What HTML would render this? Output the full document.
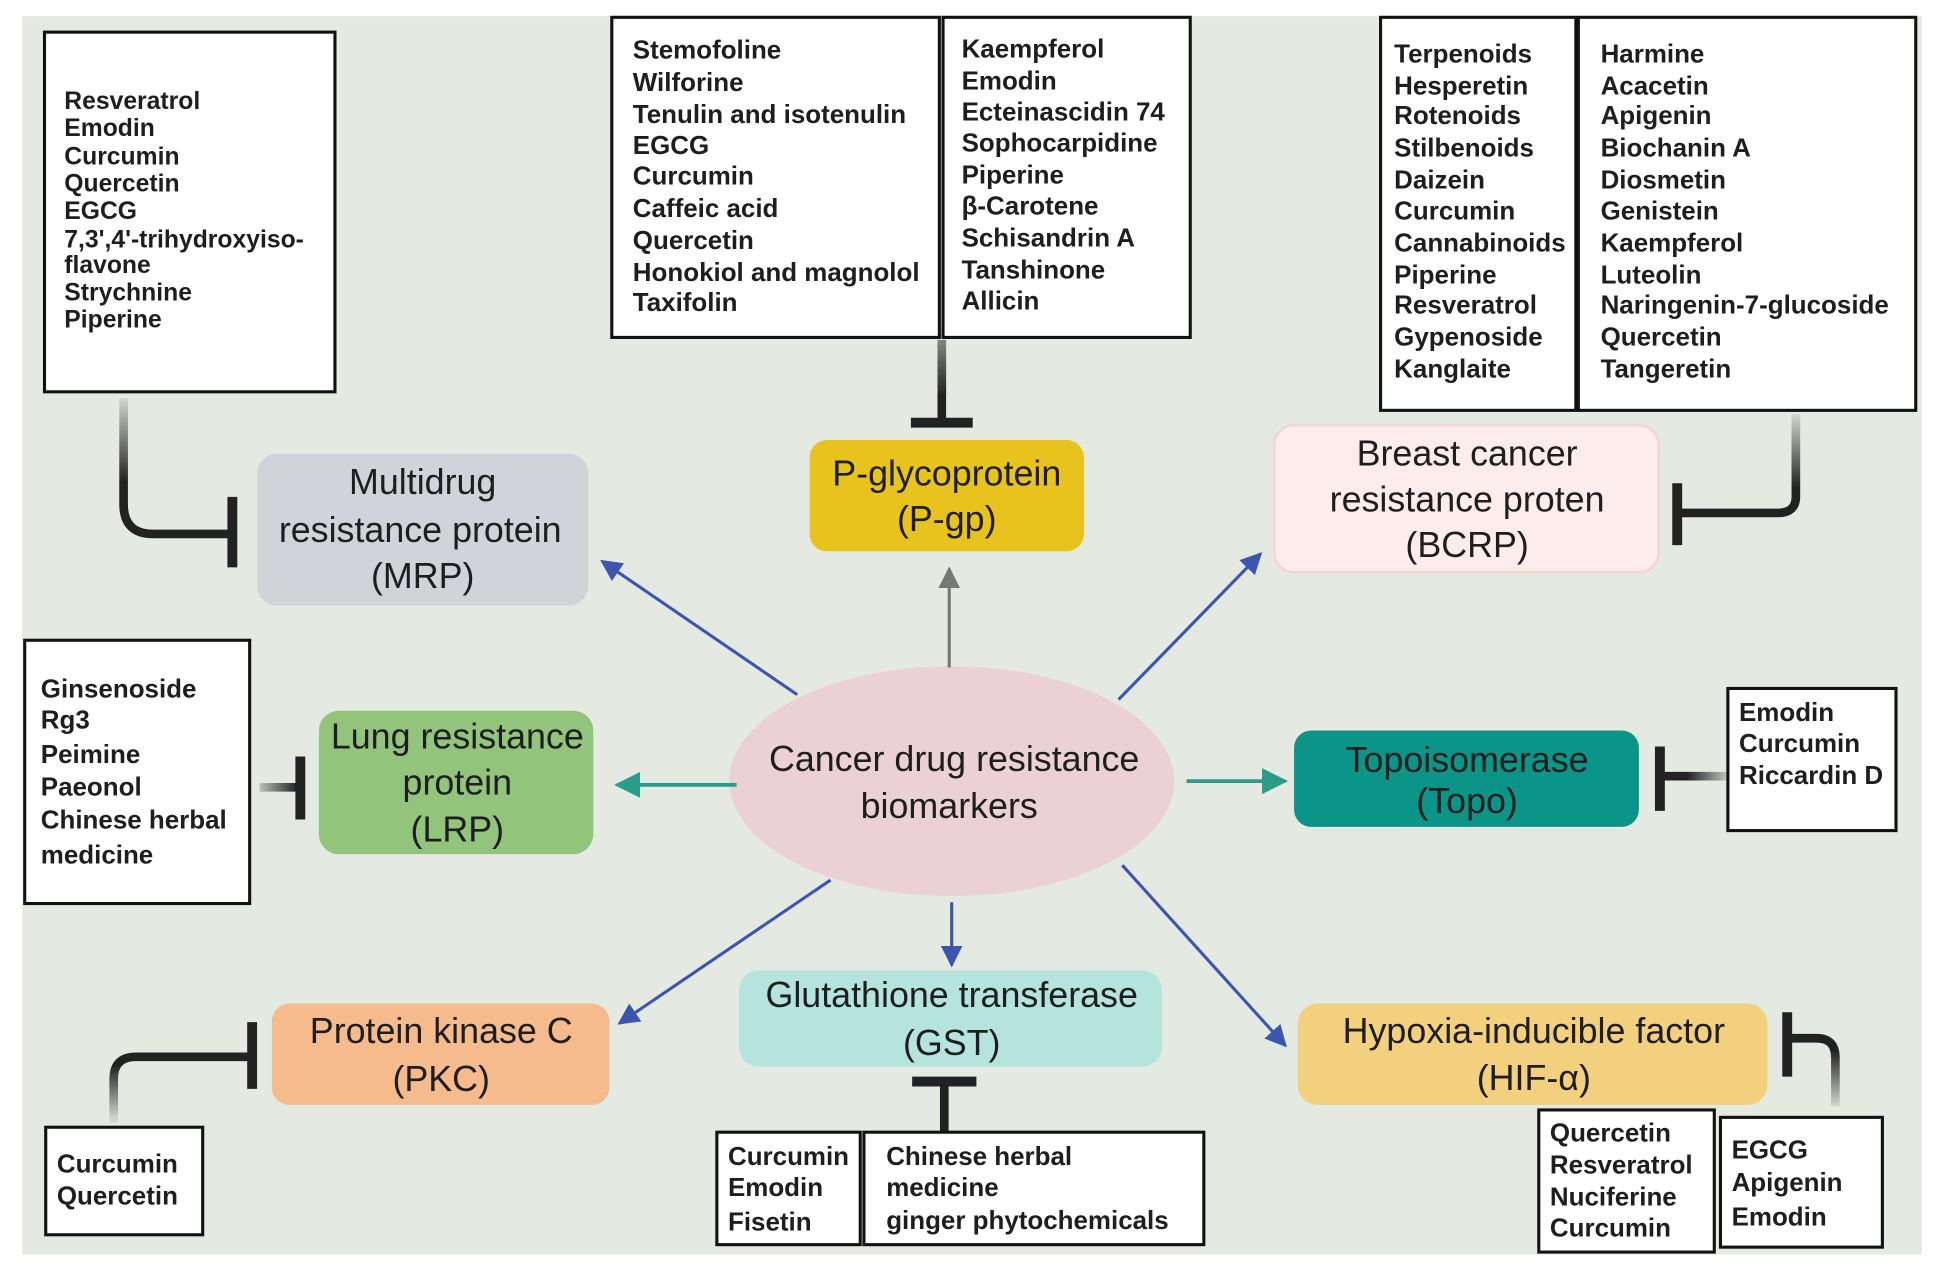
<!DOCTYPE html>
<html><head><meta charset="utf-8"><style>
html,body{margin:0;padding:0;background:#fff;}
svg{display:block;}
text{font-family:"Liberation Sans Narrow","Liberation Sans",sans-serif;fill:#1e1e1e;}
.l{font-size:21px;font-weight:bold;dominant-baseline:central;}
.m{font-size:20px;font-weight:bold;dominant-baseline:central;}
.n{font-size:29px;text-anchor:middle;dominant-baseline:central;}
.bx{fill:#fff;stroke:#111;stroke-width:2.5;}
.inh{fill:none;stroke-width:7;}
</style></head><body>
<svg width="1938" height="1270" viewBox="0 0 1568 1027.5" preserveAspectRatio="none">
<defs>
<marker id="ab" viewBox="0 0 10 10" refX="9" refY="5" markerWidth="7" markerHeight="7" orient="auto"><path d="M0,0L10,5L0,10z" fill="#3b55b0"/></marker>
<marker id="ag" viewBox="0 0 10 10" refX="9" refY="5" markerWidth="7" markerHeight="7" orient="auto"><path d="M0,0L10,5L0,10z" fill="#777"/></marker>
<marker id="at" viewBox="0 0 10 10" refX="9" refY="5" markerWidth="7" markerHeight="7" orient="auto"><path d="M0,0L10,5L0,10z" fill="#2a9d8a"/></marker>
<linearGradient id="g1" gradientUnits="userSpaceOnUse" x1="0" y1="322" x2="0" y2="390"><stop offset="0" stop-color="#222" stop-opacity="0.1"/><stop offset="1" stop-color="#222"/></linearGradient>
<linearGradient id="g2" gradientUnits="userSpaceOnUse" x1="0" y1="335" x2="0" y2="395"><stop offset="0" stop-color="#222" stop-opacity="0.1"/><stop offset="1" stop-color="#222"/></linearGradient>
<linearGradient id="g3" gradientUnits="userSpaceOnUse" x1="0" y1="905" x2="0" y2="862"><stop offset="0" stop-color="#222" stop-opacity="0.1"/><stop offset="1" stop-color="#222"/></linearGradient>
<linearGradient id="g4" gradientUnits="userSpaceOnUse" x1="0" y1="895" x2="0" y2="850"><stop offset="0" stop-color="#222" stop-opacity="0.1"/><stop offset="1" stop-color="#222"/></linearGradient>
<linearGradient id="g5" gradientUnits="userSpaceOnUse" x1="1397" y1="0" x2="1365" y2="0"><stop offset="0" stop-color="#222" stop-opacity="0.2"/><stop offset="1" stop-color="#222"/></linearGradient>
<linearGradient id="g6" gradientUnits="userSpaceOnUse" x1="210" y1="0" x2="240" y2="0"><stop offset="0" stop-color="#222" stop-opacity="0.2"/><stop offset="1" stop-color="#222"/></linearGradient>
<linearGradient id="g7" gradientUnits="userSpaceOnUse" x1="0" y1="275" x2="0" y2="320"><stop offset="0" stop-color="#222" stop-opacity="0.5"/><stop offset="1" stop-color="#222"/></linearGradient>
</defs>
<rect x="18" y="13" width="1537" height="1002" fill="#e4eae1"/>

<rect class="bx" x="36" y="26" width="235" height="291"/>
<g class="m">
<text x="52" y="82">Resveratrol</text><text x="52" y="104">Emodin</text><text x="52" y="127">Curcumin</text><text x="52" y="149">Quercetin</text><text x="52" y="171">EGCG</text><text x="52" y="194">7,3',4'-trihydroxyiso-</text><text x="52" y="215">flavone</text><text x="52" y="237">Strychnine</text><text x="52" y="259">Piperine</text>
</g>
<path class="inh" d="M100,322 V408 Q100,432 124,432 H186" style="stroke:url(#g1)"/>
<line x1="188" y1="402" x2="188" y2="459" stroke="#222" stroke-width="8"/>

<rect class="bx" x="495" y="14" width="265" height="259"/>
<rect class="bx" x="763" y="14" width="200" height="259"/>
<g class="l">
<text x="512" y="41">Stemofoline</text><text x="512" y="67">Wilforine</text><text x="512" y="93">Tenulin and isotenulin</text><text x="512" y="118">EGCG</text><text x="512" y="143">Curcumin</text><text x="512" y="169">Caffeic acid</text><text x="512" y="195">Quercetin</text><text x="512" y="221">Honokiol and magnolol</text><text x="512" y="245">Taxifolin</text>
<text x="778" y="40">Kaempferol</text><text x="778" y="66">Emodin</text><text x="778" y="91">Ecteinascidin 74</text><text x="778" y="116">Sophocarpidine</text><text x="778" y="142">Piperine</text><text x="778" y="167">β-Carotene</text><text x="778" y="193">Schisandrin A</text><text x="778" y="219">Tanshinone</text><text x="778" y="244">Allicin</text>
</g>
<line x1="762" y1="275" x2="762" y2="340" style="stroke:url(#g7)" stroke-width="7"/>
<line x1="737" y1="342" x2="787" y2="342" stroke="#222" stroke-width="8"/>

<rect class="bx" x="1117" y="14" width="158" height="318"/>
<rect class="bx" x="1277" y="14" width="273" height="318"/>
<g class="l">
<text x="1128" y="44">Terpenoids</text><text x="1128" y="70">Hesperetin</text><text x="1128" y="94">Rotenoids</text><text x="1128" y="120">Stilbenoids</text><text x="1128" y="146">Daizein</text><text x="1128" y="171">Curcumin</text><text x="1128" y="197">Cannabinoids</text><text x="1128" y="223">Piperine</text><text x="1128" y="247">Resveratrol</text><text x="1128" y="273">Gypenoside</text><text x="1128" y="299">Kanglaite</text>
<text x="1295" y="44">Harmine</text><text x="1295" y="70">Acacetin</text><text x="1295" y="94">Apigenin</text><text x="1295" y="120">Biochanin A</text><text x="1295" y="146">Diosmetin</text><text x="1295" y="171">Genistein</text><text x="1295" y="197">Kaempferol</text><text x="1295" y="223">Luteolin</text><text x="1295" y="247">Naringenin-7-glucoside</text><text x="1295" y="273">Quercetin</text><text x="1295" y="299">Tangeretin</text>
</g>
<path class="inh" d="M1453,335 V402 Q1453,415 1438,415 H1358" style="stroke:url(#g2)"/>
<line x1="1357" y1="391" x2="1357" y2="441" stroke="#222" stroke-width="8"/>

<rect x="208" y="367" width="268" height="123" rx="16" fill="#d0d3d8"/>
<text class="n" x="342" y="390">Multidrug</text><text class="n" x="340" y="429">resistance protein</text><text class="n" x="342" y="466">(MRP)</text>

<rect x="655" y="356" width="222" height="90" rx="14" fill="#e8c31e"/>
<text class="n" x="766" y="383">P-glycoprotein</text><text class="n" x="766" y="420">(P-gp)</text>

<rect x="1031" y="344" width="311" height="119" rx="16" fill="#fdecec" stroke="#f5d3d3" stroke-width="2"/>
<text class="n" x="1187" y="367">Breast cancer</text><text class="n" x="1187" y="404">resistance proten</text><text class="n" x="1187" y="441">(BCRP)</text>

<ellipse cx="770" cy="632" rx="180" ry="93" fill="#ebd1d5"/>
<text class="n" x="772" y="614">Cancer drug resistance</text><text class="n" x="768" y="652">biomarkers</text>

<line x1="768" y1="540" x2="768" y2="460" stroke="#777" stroke-width="2.5" marker-end="url(#ag)"/>
<line x1="645" y1="562" x2="487" y2="454" stroke="#3b55b0" stroke-width="2.5" marker-end="url(#ab)"/>
<line x1="905" y1="566" x2="1020" y2="448" stroke="#3b55b0" stroke-width="2.5" marker-end="url(#ab)"/>
<line x1="596" y1="635" x2="499" y2="635" stroke="#2a9d8a" stroke-width="3" marker-end="url(#at)"/>
<line x1="960" y1="632" x2="1040" y2="632" stroke="#2a9d8a" stroke-width="3" marker-end="url(#at)"/>
<line x1="672" y1="712" x2="501" y2="828" stroke="#3b55b0" stroke-width="2.5" marker-end="url(#ab)"/>
<line x1="770" y1="730" x2="770" y2="781" stroke="#3b55b0" stroke-width="2.5" marker-end="url(#ab)"/>
<line x1="908" y1="700" x2="1040" y2="846" stroke="#3b55b0" stroke-width="2.5" marker-end="url(#ab)"/>

<rect class="bx" x="20" y="518" width="182" height="213"/>
<g class="l">
<text x="33" y="558">Ginsenoside</text><text x="33" y="583">Rg3</text><text x="33" y="611">Peimine</text><text x="33" y="637">Paeonol</text><text x="33" y="664">Chinese herbal</text><text x="33" y="692">medicine</text>
</g>
<line x1="210" y1="637" x2="243" y2="637" style="stroke:url(#g6)" stroke-width="7"/>
<line x1="243" y1="612" x2="243" y2="663" stroke="#222" stroke-width="8"/>
<rect x="258" y="575" width="222" height="116" rx="16" fill="#92c47c"/>
<text class="n" x="370" y="596">Lung resistance</text><text class="n" x="370" y="633">protein</text><text class="n" x="370" y="671">(LRP)</text>

<rect x="1047" y="591" width="279" height="78" rx="14" fill="#0b9488"/>
<text class="n" x="1187" y="615">Topoisomerase</text><text class="n" x="1187" y="648">(Topo)</text>
<line x1="1343" y1="604" x2="1343" y2="656" stroke="#222" stroke-width="8"/>
<line x1="1343" y1="628" x2="1397" y2="628" style="stroke:url(#g5)" stroke-width="7"/>
<rect class="bx" x="1398" y="557" width="136" height="115"/>
<g class="l"><text x="1407" y="577">Emodin</text><text x="1407" y="602">Curcumin</text><text x="1407" y="628">Riccardin D</text></g>

<rect x="220" y="812" width="273" height="82" rx="14" fill="#f5bb8d"/>
<text class="n" x="357" y="834">Protein kinase C</text><text class="n" x="357" y="873">(PKC)</text>
<path class="inh" d="M204,855 H110 Q92,855 92,873 V908" style="stroke:url(#g3)"/>
<line x1="204" y1="827" x2="204" y2="881" stroke="#222" stroke-width="8"/>
<rect class="bx" x="37" y="912" width="127" height="87"/>
<g class="l"><text x="46" y="942">Curcumin</text><text x="46" y="968">Quercetin</text></g>

<rect x="598" y="785" width="342" height="78" rx="16" fill="#b5e3dd"/>
<text class="n" x="770" y="805">Glutathione transferase</text><text class="n" x="770" y="844">(GST)</text>
<line x1="738" y1="875" x2="790" y2="875" stroke="#222" stroke-width="8"/>
<line x1="764" y1="875" x2="764" y2="915" stroke="#222" stroke-width="7"/>
<rect class="bx" x="580" y="916" width="116" height="91"/>
<rect class="bx" x="699" y="916" width="275" height="91"/>
<g class="l">
<text x="589" y="936">Curcumin</text><text x="589" y="961">Emodin</text><text x="589" y="989">Fisetin</text>
<text x="717" y="936">Chinese herbal</text><text x="717" y="961">medicine</text><text x="717" y="988">ginger phytochemicals</text>
</g>

<rect x="1050" y="812" width="380" height="82" rx="16" fill="#f2d07d"/>
<text class="n" x="1241" y="834">Hypoxia-inducible factor</text><text class="n" x="1241" y="872">(HIF-α)</text>
<line x1="1446" y1="819" x2="1446" y2="871" stroke="#222" stroke-width="8"/>
<path class="inh" d="M1446,840 H1470 Q1485,840 1485,856 V895" style="stroke:url(#g4)"/>
<rect class="bx" x="1245" y="898" width="142" height="115"/>
<rect class="bx" x="1392" y="904" width="131" height="105"/>
<g class="l">
<text x="1254" y="917">Quercetin</text><text x="1254" y="943">Resveratrol</text><text x="1254" y="969">Nuciferine</text><text x="1254" y="994">Curcumin</text>
<text x="1401" y="931">EGCG</text><text x="1401" y="957">Apigenin</text><text x="1401" y="985">Emodin</text>
</g>
</svg>
</body></html>
